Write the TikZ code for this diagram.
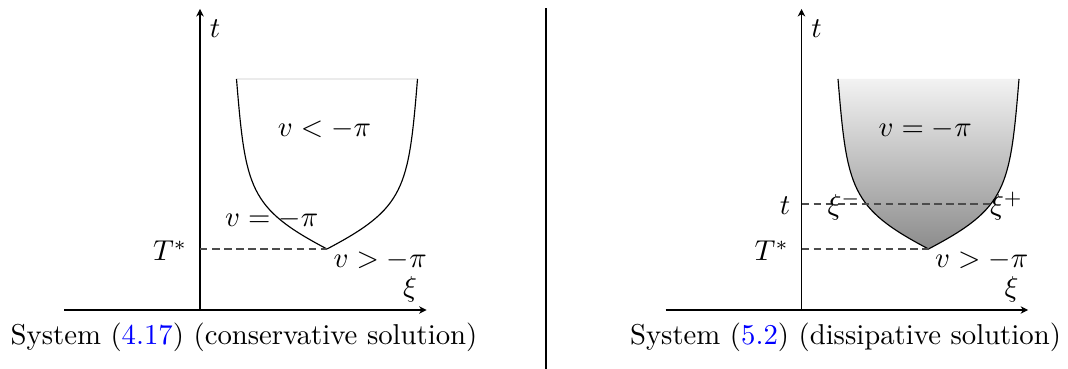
\documentclass[tikz,border=0pt]{standalone}
\usepackage{amsmath,amssymb}
\usepackage{xcolor}
\usepackage{tikz}
\usetikzlibrary{arrows.meta,positioning,calc}
\definecolor{reflink}{HTML}{0000FF}
\definecolor{ink}{HTML}{000000}
\tikzset{
    every picture/.style={line cap=butt,line join=round},
    axisline/.style={-{Stealth[length=2.6pt,width=2.6pt,inset=0.8pt]},draw=ink,line width=0.4pt},
    cupline/.style={draw=ink,line width=0.4pt},
    guideline/.style={draw=black!70,line width=0.4pt,dash pattern=on 2.6pt off 1.6pt},
    cupshade/.style={top color=black!5,bottom color=black!45},
    marklabel/.style={inner sep=0pt,text=ink},
    captiontext/.style={inner sep=0pt,text=ink}
}

\begin{document}
\begin{tikzpicture}[x=0.348pt,y=0.348pt]
  \useasboundingbox (0,0) rectangle (1068,369);

  % conservative solution
  \begin{scope}[shift={(200,59)}]
    \coordinate (oL) at (0,0);
    \coordinate (tendL) at (0,301);
    \coordinate (xbegL) at (-136,0);
    \coordinate (xendL) at (226.6,0);
    \coordinate (topaL) at (36.5,231);
    \coordinate (topbL) at (217.5,231);
    \coordinate (tipL) at (127,61);
    \coordinate (TaxL) at (0,61);
    \draw[axisline] (xbegL) -- (xendL);
    \draw[axisline] (oL) -- (tendL);
    \draw[draw=black!8,line width=0.4pt] (topaL) -- (topbL);
    \draw[cupline] (topaL) .. controls (45.5,121) and (49,102) .. (tipL)
      .. controls (205,102) and (208.5,121) .. (topbL);
    \draw[guideline] (TaxL) -- (tipL);
    \node[marklabel] (tL) at (15,281) {$t$};
    \node[marklabel] (xiL) at (210,21) {$\xi$};
    \node[marklabel] (TstarL) at (-29.8,59) {$T^*$};
    \node[marklabel] (vless) at (124.5,181) {$v<-\pi$};
    \node[marklabel] (veqL) at (71.7,91) {$v=-\pi$};
    \node[marklabel] (vmoreL) at (180.2,50) {$v>-\pi$};
    \node[captiontext] (capL) at (44,-27.5)
      {System (\textcolor{reflink}{4.17}) (conservative solution)};
  \end{scope}

  % dissipative solution
  \begin{scope}[shift={(801.5,59)}]
    \coordinate (oR) at (0,0);
    \coordinate (tendR) at (0,301);
    \coordinate (xbegR) at (-136,0);
    \coordinate (xendR) at (226.6,0);
    \coordinate (topaR) at (36.5,231);
    \coordinate (topbR) at (217.5,231);
    \coordinate (tipR) at (127,61);
    \coordinate (TaxR) at (0,61);
    \coordinate (taxR) at (0,106);
    \coordinate (crossR) at (189,106);
    \shade[cupshade] (topaR) .. controls (45.5,121) and (49,102) .. (tipR)
      .. controls (205,102) and (208.5,121) .. (topbR) -- cycle;
    \draw[axisline] (xbegR) -- (xendR);
    \draw[axisline] (oR) -- (tendR);
    \draw[cupline] (topaR) .. controls (45.5,121) and (49,102) .. (tipR)
      .. controls (205,102) and (208.5,121) .. (topbR);
    \draw[guideline] (TaxR) -- (tipR);
    \draw[guideline] (taxR) -- (crossR);
    \node[marklabel] (tR) at (15,281) {$t$};
    \node[marklabel] (xiR) at (210,21) {$\xi$};
    \node[marklabel] (TstarR) at (-29.8,59) {$T^*$};
    \node[marklabel] (tnow) at (-16.5,104) {$t$};
    \node[marklabel] (ximinus) at (42.7,104) {$\xi^-$};
    \node[marklabel] (xiplus) at (205,104) {$\xi^+$};
    \node[marklabel] (veqR) at (123.7,181) {$v=-\pi$};
    \node[marklabel] (vmoreR) at (180.2,50) {$v>-\pi$};
    \node[captiontext] (capR) at (44,-27.5)
      {System (\textcolor{reflink}{5.2}) (dissipative solution)};
  \end{scope}

  % separator
  \coordinate (sepTop) at (546,360.7);
  \coordinate (sepBot) at (546,0);
  \draw[draw=ink,line width=0.8pt] (sepTop) -- (sepBot);
\end{tikzpicture}
\end{document}
